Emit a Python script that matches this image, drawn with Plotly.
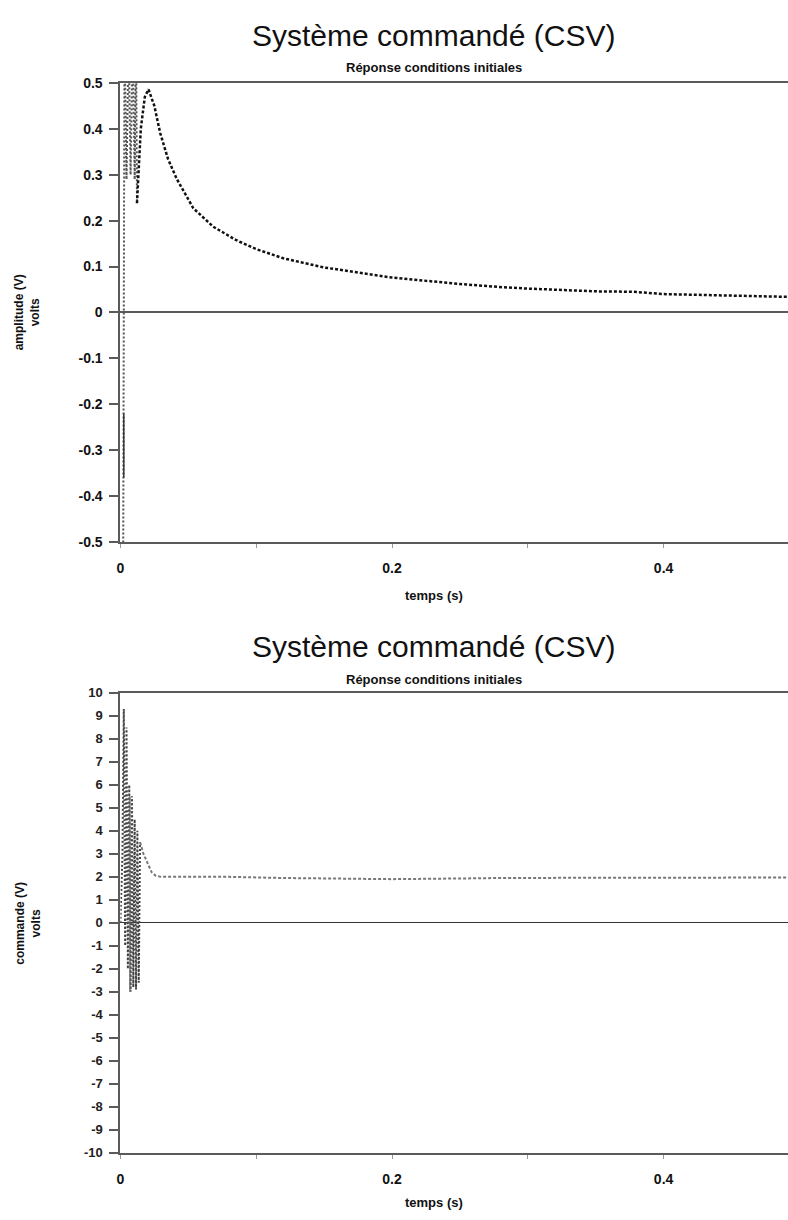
import plotly.graph_objects as go

# ---------------- data ----------------
# Top: amplitude response (V)
t_amp_osc = [0.0000, 0.0020, 0.0030, 0.0045, 0.0060, 0.0075, 0.0090, 0.0105, 0.0115, 0.0122]
v_amp_osc = [-0.60, -0.60, 0.60, 0.29, 0.60, 0.30, 0.60, 0.29, 0.60, 0.238]

t_amp_main = [0.0122, 0.0150, 0.0180, 0.0207, 0.0250, 0.0293, 0.0350, 0.0415, 0.0537, 0.0683,
              0.0850, 0.1000, 0.1200, 0.1500, 0.2000, 0.2500, 0.2810, 0.3000, 0.3500, 0.3780,
              0.4000, 0.4500, 0.4916]
v_amp_main = [0.238, 0.400, 0.470, 0.486, 0.450, 0.391, 0.335, 0.291, 0.227, 0.187,
              0.158, 0.138, 0.118, 0.098, 0.076, 0.062, 0.055, 0.052, 0.046, 0.045,
              0.040, 0.036, 0.034]

t_amp_solid = [0.0025, 0.0025]
v_amp_solid = [-0.22, -0.36]

# Bottom: control signal (V)
t_cmd_osc = [0.0000, 0.0015, 0.0025, 0.0035, 0.0045, 0.0055, 0.0065, 0.0075, 0.0085, 0.0095,
             0.0105, 0.0115, 0.0125, 0.0135, 0.0145]
u_cmd_osc = [0.0, 3.0, 9.3, -1.0, 8.5, -2.0, 6.0, -3.0, 5.5, -2.8,
             4.5, -2.9, 4.0, -2.6, 3.5]

t_cmd_main = [0.0145, 0.0170, 0.0200, 0.0230, 0.0260, 0.0300, 0.0500, 0.0800, 0.1200, 0.1500,
              0.2000, 0.2500, 0.2800, 0.3500, 0.4000, 0.4916]
u_cmd_main = [3.5, 3.0, 2.6, 2.2, 2.05, 2.0, 2.0, 2.0, 1.95, 1.92,
              1.90, 1.93, 1.95, 1.96, 1.97, 1.97]

t_cmd_solid = [0.0070, 0.0070]
u_cmd_solid = [5.5, -3.0]

title_text = "Système commandé (CSV)"
subtitle_text = "Réponse conditions initiales"
xlabel = "temps (s)"
ylabel_top = "amplitude (V)<br>volts"
ylabel_bot = "commande (V)<br>volts"

x_tickvals = [0, 0.1, 0.2, 0.3, 0.4]
x_ticktext = ["0", "", "0.2", "", "0.4"]
y_top_vals = [0.5, 0.4, 0.3, 0.2, 0.1, 0, -0.1, -0.2, -0.3, -0.4, -0.5]
y_top_text = ["0.5", "0.4", "0.3", "0.2", "0.1", "0", "-0.1", "-0.2", "-0.3", "-0.4", "-0.5"]
y_bot_vals = list(range(10, -11, -1))
y_bot_text = [str(v) for v in y_bot_vals]

# ---------------- figure ----------------
W, H = 788, 1220
FONT = "Liberation Sans, Arial, Helvetica, sans-serif"
AX = "#5a5a5a"

fig = go.Figure()

fig.add_trace(go.Scatter(x=t_amp_osc, y=v_amp_osc, mode="lines", xaxis="x", yaxis="y",
                         line=dict(color="#555555", width=2, dash="2px,2px"), showlegend=False))
fig.add_trace(go.Scatter(x=t_amp_main, y=v_amp_main, mode="lines", xaxis="x", yaxis="y",
                         line=dict(color="#111111", width=2.5, dash="3px,2px"), showlegend=False))
fig.add_trace(go.Scatter(x=t_amp_solid, y=v_amp_solid, mode="lines", xaxis="x", yaxis="y",
                         line=dict(color="#333333", width=1.5), showlegend=False))

fig.add_trace(go.Scatter(x=t_cmd_osc, y=u_cmd_osc, mode="lines", xaxis="x2", yaxis="y2",
                         line=dict(color="#444444", width=2, dash="2px,2px"), showlegend=False))
fig.add_trace(go.Scatter(x=t_cmd_main, y=u_cmd_main, mode="lines", xaxis="x2", yaxis="y2",
                         line=dict(color="#777777", width=2, dash="3px,2px"), showlegend=False))
fig.add_trace(go.Scatter(x=t_cmd_solid, y=u_cmd_solid, mode="lines", xaxis="x2", yaxis="y2",
                         line=dict(color="#666666", width=1.2), showlegend=False))

left = 117 / W
top1, bot1 = 76, 541
top2, bot2 = 694, 1160

def ydom(t, b):
    return [1 - b / H, 1 - t / H]

xcommon = dict(range=[0, 0.4916], domain=[left, 1], showgrid=False, zeroline=False,
               showline=True, linecolor=AX, linewidth=2, mirror=True,
               ticks="outside", ticklen=4, tickwidth=1, tickcolor="#999999",
               tickvals=x_tickvals, ticktext=x_ticktext, ticklabelstandoff=8,
               tickfont=dict(family=FONT, size=14, color="#111111", weight="bold"))

fig.update_layout(
    width=W, height=H, margin=dict(l=0, r=0, t=0, b=0),
    paper_bgcolor="white", plot_bgcolor="white",
    xaxis=dict(**xcommon, anchor="y"),
    xaxis2=dict(**xcommon, anchor="y2"),
    yaxis=dict(domain=ydom(top1, bot1), range=[-0.5, 0.5], anchor="x",
               showgrid=False, zeroline=True, zerolinecolor=AX, zerolinewidth=2,
               showline=True, linecolor=AX, linewidth=2,
               ticks="outside", ticklen=9, tickwidth=1.5, tickcolor=AX,
               tickvals=y_top_vals, ticktext=y_top_text, ticklabelstandoff=4,
               tickfont=dict(family=FONT, size=14, color="#111111", weight="bold")),
    yaxis2=dict(domain=ydom(top2, bot2), range=[-10, 10], anchor="x2",
                showgrid=False, zeroline=True, zerolinecolor="#333333", zerolinewidth=1.2,
                showline=True, linecolor=AX, linewidth=2,
                ticks="outside", ticklen=9, tickwidth=1.5, tickcolor=AX,
                tickvals=y_bot_vals, ticktext=y_bot_text, ticklabelstandoff=4,
                tickfont=dict(family=FONT, size=13, color="#222222", weight="bold")),
)

def ann(text, xpx, ypx, size, bold=False, angle=0):
    fig.add_annotation(text=text, x=xpx / W, y=1 - ypx / H, xref="paper", yref="paper",
                       xanchor="center", yanchor="middle", showarrow=False, textangle=angle,
                       font=dict(family=FONT, size=size, color="#111111",
                                 weight="bold" if bold else "normal"))

cx = 432
ann(title_text, cx, 28, 30)
ann(subtitle_text, cx, 60, 13, bold=True)
ann(xlabel, cx, 595, 13, bold=True)
ann(ylabel_top, 24, (top1 + bot1) / 2, 12, bold=True, angle=-90)

ann(title_text, cx, 647, 30)
ann(subtitle_text, cx, 680, 13, bold=True)
ann(xlabel, cx, 1210, 13, bold=True)
ann(ylabel_bot, 24, (top2 + bot2) / 2, 12, bold=True, angle=-90)

fig.write_html("out.html")
